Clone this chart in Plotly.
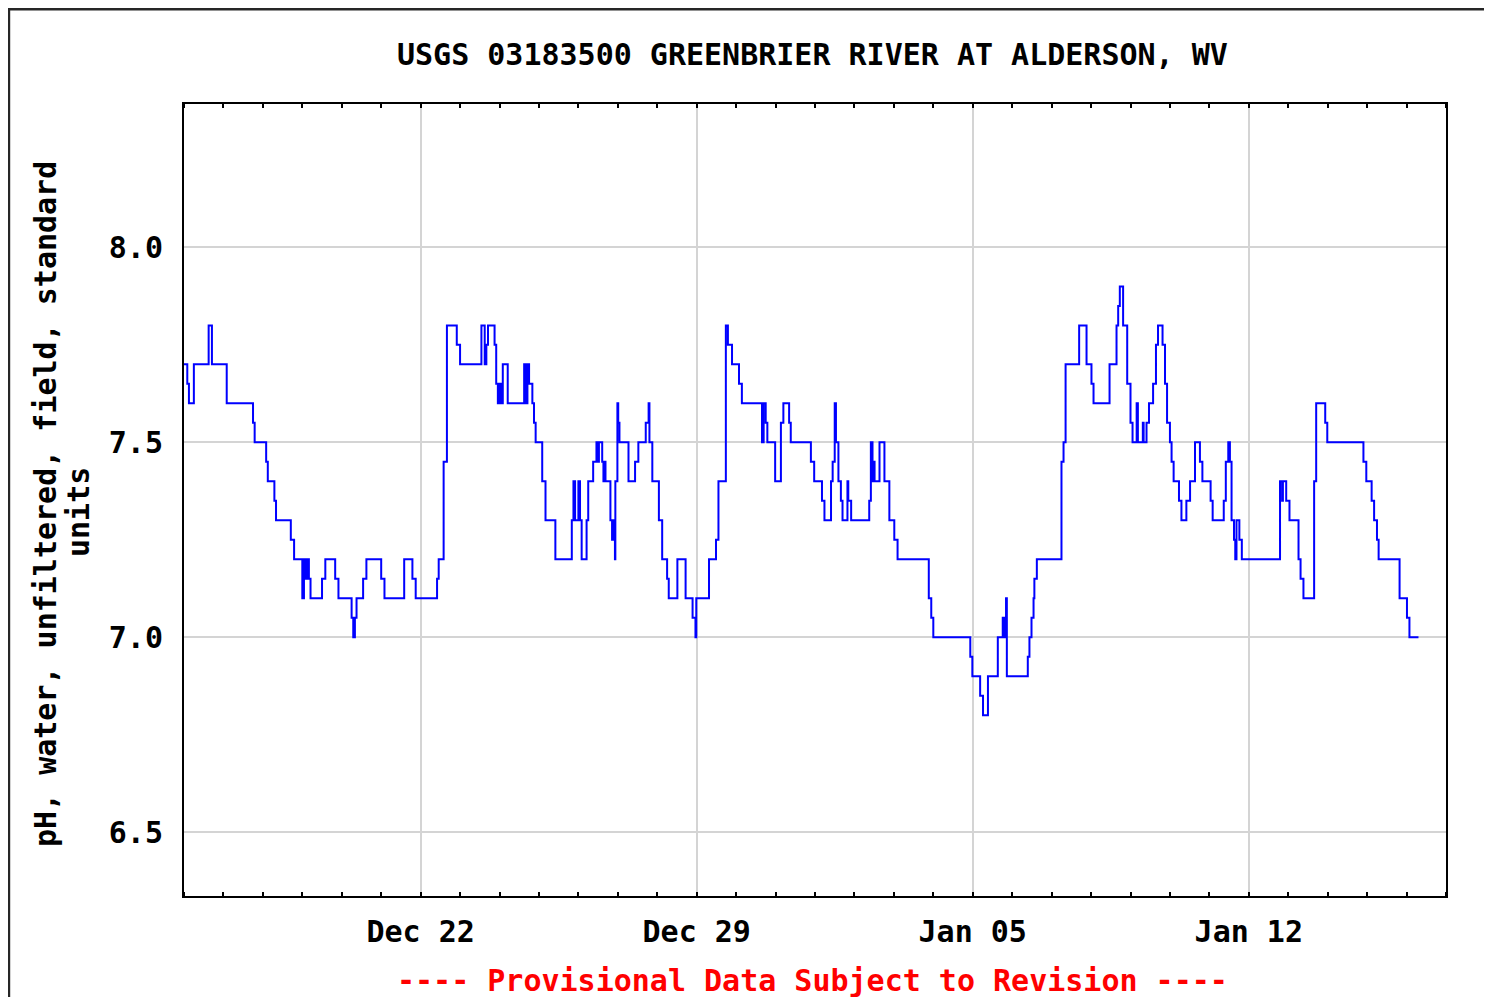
import pandas as pd
import plotly.graph_objects as go

# ---- data: hours since 2014-12-16 00:00 and pH values ----
start = "2014-12-16 00:00"
hours = [0, 2, 3, 6, 15, 17, 26, 42, 43, 50, 51, 55, 56, 65, 67, 72, 73, 74, 75, 76, 77,
         84, 86, 92, 94, 102, 103, 104, 105, 109, 111, 120, 122, 134, 139, 141, 154, 155,
         158, 160, 166, 168, 181, 183, 184, 185, 189, 190, 191, 192, 193, 194, 197, 207,
         208, 209, 210, 212, 213, 214, 218, 220, 226, 236, 237, 238, 240, 241, 242, 245,
         246, 249, 251, 252,
         252.5, 254.5, 255.25, 255.75, 256.5, 259.5, 260.5, 261, 261.75, 262.25, 262.5,
         263.75, 264.25, 265, 270.5, 274.5, 276.5, 281, 282.75, 283.25, 285, 289, 291,
         294, 295, 300.25, 305.25, 309.5, 311.25, 311.75, 319.5, 323.75, 325.25, 329.75,
         331, 333.5, 337.75, 339.5, 351.75, 352.75, 354, 355, 359.75, 363.25, 364.75,
         368.25, 369.25, 381.5, 383.5, 388.25, 389.75, 393.75, 394.75, 396, 396.75,
         398.25, 399.75, 400.75, 403.75, 404.25, 406, 417, 418, 419, 419.5, 420.25,
         423.25, 426.25, 429.25, 432.25, 434.25, 453.25, 454.75, 456, 478.5, 479.75,
         484.5, 486.25, 489.25, 495.25, 498.25, 499, 499.75, 500.25, 500.75, 513.5,
         514.5, 515.75, 517, 517.5, 519, 534, 535.25, 536.5, 544.75, 549.25, 552.25,
         553.5, 563.25, 567.5, 568.5, 569.5, 571.5, 574, 576, 577.25, 579.75, 580.5,
         583.5, 584, 585.75, 587.25, 589.75, 591.5, 592.75, 595.5, 597, 598.25, 600,
         601, 602.25, 605.5, 607, 610, 612.25, 615.25, 618.25, 619.75, 624.75, 626,
         632.75, 634, 635.5, 636.5, 637.5, 639, 639.75, 640.5, 642.25, 643.75, 667,
         668.25, 668.75, 670.75, 672.75, 678.25, 679.5, 681.25, 687.75, 689, 694.5,
         695.75, 717.75, 719.5, 722.75, 724.25, 726, 727, 739.75, 744.25, 745.75, 751.25]
ph = [7.7, 7.65, 7.6, 7.7, 7.8, 7.7, 7.6, 7.55, 7.5, 7.45, 7.4, 7.35, 7.3, 7.25, 7.2, 7.1,
      7.2, 7.15, 7.2, 7.15, 7.1, 7.15, 7.2, 7.15, 7.1, 7.05, 7.0, 7.05, 7.1, 7.15, 7.2,
      7.15, 7.1, 7.2, 7.15, 7.1, 7.15, 7.2, 7.45, 7.8, 7.75, 7.7, 7.8, 7.7, 7.75, 7.8,
      7.75, 7.65, 7.6, 7.65, 7.6, 7.7, 7.6, 7.7, 7.6, 7.7, 7.65, 7.6, 7.55, 7.5, 7.4,
      7.3, 7.2, 7.3, 7.4, 7.3, 7.4, 7.3, 7.2, 7.3, 7.4, 7.45, 7.5, 7.45,
      7.5, 7.45, 7.4, 7.45, 7.4, 7.3, 7.25, 7.3, 7.25, 7.2, 7.4,
      7.6, 7.55, 7.5, 7.4, 7.45, 7.5, 7.55, 7.6, 7.5, 7.4, 7.3, 7.2,
      7.15, 7.1, 7.2, 7.1, 7.05, 7.0, 7.1, 7.2, 7.25, 7.4, 7.8,
      7.75, 7.7, 7.65, 7.6, 7.5, 7.6, 7.55, 7.5, 7.4, 7.55, 7.6,
      7.55, 7.5, 7.45, 7.4, 7.35, 7.3, 7.4, 7.45, 7.6, 7.5,
      7.4, 7.35, 7.3, 7.4, 7.35, 7.3, 7.35, 7.5, 7.4, 7.45, 7.4,
      7.5, 7.4, 7.3, 7.25, 7.2, 7.1, 7.05, 7.0, 6.95, 6.9,
      6.85, 6.8, 6.9, 7.0, 7.05, 7.0, 7.05, 7.1, 6.9, 6.95,
      7.0, 7.05, 7.1, 7.15, 7.2, 7.45, 7.5, 7.7, 7.8, 7.7, 7.65,
      7.6, 7.7, 7.8, 7.85, 7.9, 7.8, 7.65, 7.55, 7.5, 7.6, 7.5,
      7.55, 7.5, 7.55, 7.6, 7.65, 7.75, 7.8, 7.75, 7.65, 7.55, 7.5,
      7.45, 7.4, 7.35, 7.3, 7.35, 7.4, 7.5, 7.45, 7.4, 7.35, 7.3,
      7.35, 7.45, 7.5, 7.45, 7.3, 7.25, 7.2, 7.3, 7.25, 7.2, 7.4,
      7.35, 7.4, 7.35, 7.3, 7.2, 7.15, 7.1, 7.4, 7.6, 7.55,
      7.5, 7.45, 7.4, 7.35, 7.3, 7.25, 7.2, 7.1, 7.05, 7.0, 7.0]

tick_dates = ["2014-12-22", "2014-12-29", "2015-01-05", "2015-01-12"]
tick_labels = ["Dec 22", "Dec 29", "Jan 05", "Jan 12"]
y_ticks = [6.5, 7.0, 7.5, 8.0]
y_labels = ["6.5", "7.0", "7.5", "8.0"]
x_range = ["2014-12-16 00:00", "2015-01-17 00:00"]
y_range = [6.336, 8.368]

title_text = "USGS 03183500 GREENBRIER RIVER AT ALDERSON, WV"
ylabel_line1 = "pH, water, unfiltered, field, standard"
ylabel_line2 = "units"
footer_text = "---- Provisional Data Subject to Revision ----"

times = pd.Timestamp(start) + pd.to_timedelta(hours, unit="h")

FONT = "DejaVu Sans Mono"
FS = 30

fig = go.Figure()
fig.add_trace(go.Scatter(x=times, y=ph, mode="lines", line=dict(color="#0000ff", width=2, shape="hv"),
                         hoverinfo="x+y", showlegend=False))

fig.update_layout(
    width=1484, height=989,
    margin=dict(l=176, r=46, t=96, b=101),
    paper_bgcolor="#e6fcd9",
    plot_bgcolor="white",
    font=dict(family=FONT, size=FS, color="black", weight="bold"),
    showlegend=False,
)

fig.update_xaxes(
    type="date", range=x_range,
    tickmode="array", tickvals=tick_dates, ticktext=tick_labels,
    ticks="", showgrid=True, gridcolor="#d4d4d4", gridwidth=2,
    showline=True, linecolor="black", linewidth=2, mirror="all",
    tickfont=dict(family=FONT, size=FS, color="black", weight="bold"),
    ticklabelstandoff=8,
    zeroline=False,
    minor=dict(dtick=86400000, tick0="2014-12-16", ticks="inside", ticklen=4,
               tickwidth=2, tickcolor="black", showgrid=False),
)
fig.update_yaxes(
    range=y_range, tickmode="array", tickvals=y_ticks, ticktext=y_labels,
    ticks="", showgrid=True, gridcolor="#d4d4d4", gridwidth=2,
    showline=True, linecolor="black", linewidth=2, mirror="all",
    tickfont=dict(family=FONT, size=FS, color="black", weight="bold"),
    ticklabelstandoff=13, zeroline=False,
)

# white page frame with dark border over the light-green page background
fig.add_shape(type="rect", xref="paper", yref="paper",
              x0=-0.1387, x1=1.2, y0=-0.3, y1=1.1195,
              fillcolor="white", line=dict(color="#262626", width=2.5), layer="below")

fig.add_annotation(text=title_text, xref="paper", yref="paper", x=0.498, y=1.062,
                   showarrow=False, xanchor="center", yanchor="middle",
                   font=dict(family=FONT, size=FS, color="black", weight="bold"))
fig.add_annotation(text=footer_text, xref="paper", yref="paper", x=0.498, y=-0.1073,
                   showarrow=False, xanchor="center", yanchor="middle",
                   font=dict(family=FONT, size=FS, color="#ff0000", weight="bold"))
fig.add_annotation(text=ylabel_line1, xref="paper", yref="paper", x=-0.1101, y=0.4949,
                   showarrow=False, xanchor="center", yanchor="middle", textangle=-90,
                   font=dict(family=FONT, size=FS, color="black", weight="bold"))
fig.add_annotation(text=ylabel_line2, xref="paper", yref="paper", x=-0.0840, y=0.4848,
                   showarrow=False, xanchor="center", yanchor="middle", textangle=-90,
                   font=dict(family=FONT, size=FS, color="black", weight="bold"))

fig.write_html("out.html")
